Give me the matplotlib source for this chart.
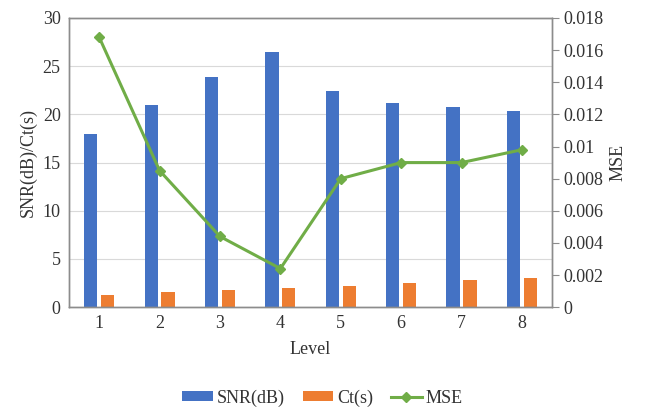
import numpy as np
import matplotlib
matplotlib.use("Agg")
import matplotlib.pyplot as plt

# --- data ---
levels = [1, 2, 3, 4, 5, 6, 7, 8]
snr_db = [18.0, 21.0, 23.9, 26.5, 22.4, 21.2, 20.8, 20.4]
ct_s = [1.3, 1.6, 1.75, 2.0, 2.2, 2.5, 2.8, 3.05]
mse = [0.0168, 0.0085, 0.0044, 0.0024, 0.0080, 0.0090, 0.0090, 0.0098]

plt.rcParams['font.family'] = ['Liberation Serif', 'DejaVu Serif']
txt = '#333333'
spine_c = '#8c8c8c'

fig = plt.figure(figsize=(6.45, 4.09), dpi=100)
ax = fig.add_axes([0.107, 0.249, 0.749, 0.707])
ax2 = ax.twinx()

x = np.array(levels)
w = 0.22
b1 = ax.bar(x - 0.14, snr_db, width=w, color='#4472C4', label='SNR(dB)', zorder=2)
b2 = ax.bar(x + 0.14, ct_s, width=w, color='#ED7D31', label='Ct(s)', zorder=2)
l1, = ax2.plot(x, mse, color='#70AD47', lw=2.2, marker='D', ms=5, label='MSE', zorder=3)

ax.set_xlim(0.5, 8.5)
ax.set_ylim(0, 30)
ax.set_yticks(range(0, 31, 5))
ax.set_xticks(levels)
ax2.set_ylim(0, 0.018)
ax2.set_yticks(np.arange(0, 0.0181, 0.002))
ax2.set_yticklabels(['0', '0.002', '0.004', '0.006', '0.008', '0.01', '0.012',
                     '0.014', '0.016', '0.018'])

ax.grid(axis='y', color='#d9d9d9', lw=0.8, zorder=0)
ax.set_axisbelow(True)

for a in (ax, ax2):
    for s in a.spines.values():
        s.set_color(spine_c)
        s.set_linewidth(1.0)
ax.tick_params(axis='y', length=0, labelsize=13, labelcolor=txt, pad=6)
ax.tick_params(axis='x', length=0, labelsize=13, labelcolor=txt, pad=6)
ax2.tick_params(axis='y', length=5, color=spine_c, labelsize=13, labelcolor=txt, pad=3)

ax.set_xlabel('Level', fontsize=13, color=txt, labelpad=6)
ax.set_ylabel('SNR(dB)/Ct(s)', fontsize=13, color=txt, labelpad=4)
ax2.set_ylabel('MSE', fontsize=13, color=txt, labelpad=4)

fig.legend([b1, b2, l1], ['SNR(dB)', 'Ct(s)', 'MSE'], loc='center',
           bbox_to_anchor=(0.5, 0.027), ncol=3, frameon=False, fontsize=13,
           handlelength=1.7, handleheight=0.5, columnspacing=1.0, handletextpad=0.2,
           labelcolor=txt)

fig.savefig('out.png', dpi=100)
